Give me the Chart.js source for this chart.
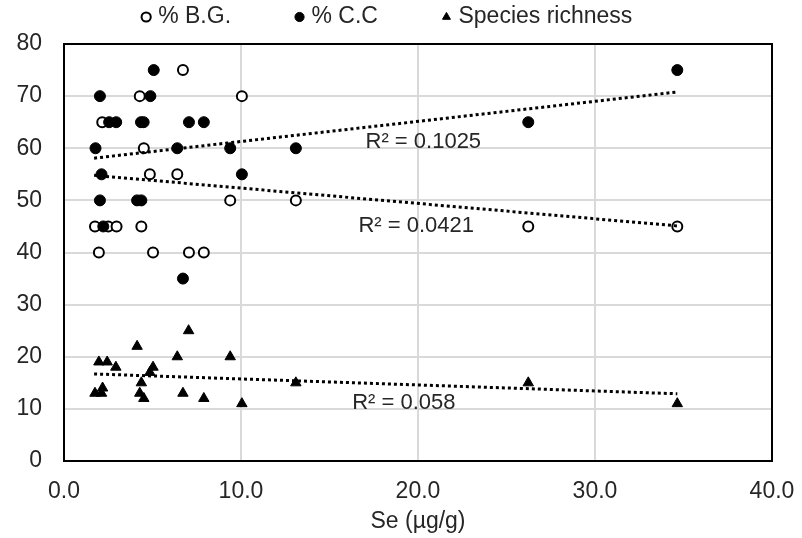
<!DOCTYPE html>
<html>
<head>
<meta charset="utf-8">
<script src="https://cdn.jsdelivr.net/npm/chart.js@4.4.1/dist/chart.umd.min.js"></script>
<style>
  html, body { margin: 0; padding: 0; background: #fff; }
  #wrap { width: 802px; height: 538px; }
</style>
</head>
<body>
<div id="wrap"><canvas id="seChart" width="802" height="538"></canvas></div>
<script>
// Se (µg/g) against % B.G. (open circles)
const bgSe  = [6.72, 4.28, 10.05, 2.16, 4.51, 4.85, 6.4, 9.39, 13.1, 1.75, 2.5, 2.97, 4.37, 26.23, 34.65, 1.97, 5.03, 7.06, 7.9];
const bgPct = [75, 70, 70, 65, 60, 55, 55, 50, 50, 45, 45, 45, 45, 45, 45, 40, 40, 40, 40];

// Se against % C.C (filled circles)
const ccSe  = [5.07, 34.65, 2.03, 4.88, 2.55, 2.95, 4.35, 4.5, 7.06, 7.9, 26.23, 1.78, 6.4, 9.39, 13.1, 2.12, 10.05, 2.03, 4.13, 4.37, 2.22, 6.72];
const ccPct = [75, 75, 70, 70, 65, 65, 65, 65, 65, 65, 65, 60, 60, 60, 60, 55, 55, 50, 50, 50, 45, 35];

// Se against species richness (triangles)
const srSe    = [7.04, 4.13, 6.4, 9.39, 1.97, 2.44, 2.93, 5.03, 4.85, 4.37, 13.1, 26.23, 2.18, 1.75, 2.12, 4.28, 6.72, 4.51, 7.9, 10.05, 34.65];
const srCount = [25, 22, 20, 20, 19, 19, 18, 18, 17, 15, 15, 15, 14, 13, 13, 13, 13, 12, 12, 11, 11];

// linear trendline ends
const trendSe = [1.7, 34.65];
const ccTrend = [58.1, 70.8];
const bgTrend = [54.8, 45.1];
const srTrend = [16.7, 12.9];

const r2Text = ['R\u00b2 = 0.1025', 'R\u00b2 = 0.0421', 'R\u00b2 = 0.058'];
const r2Se   = [20.3, 19.9, 19.2];
const r2Val  = [61.2, 45.1, 11.2];

const xTickLabels = ['0.0', '10.0', '20.0', '30.0', '40.0'];
const yTickLabels = ['0', '10', '20', '30', '40', '50', '60', '70', '80'];

const textColor = '#262626';
const gridColor = '#d9d9d9';

Chart.defaults.font.family = '"Liberation Sans", Arial, sans-serif';
Chart.defaults.color = textColor;

const toPoints = (xs, ys) => xs.map((x, i) => ({ x: x, y: ys[i] }));

const trendSet = (vals) => ({
    data: toPoints(trendSe, vals),
    showLine: true,
    borderColor: '#000',
    borderWidth: 3,
    borderDash: [3, 3],
    pointRadius: 0,
    order: 0
});

const r2Labels = {
    id: 'r2Labels',
    afterDatasetsDraw(chart) {
        const { ctx, scales: { x, y } } = chart;
        ctx.save();
        ctx.font = '22px "Liberation Sans", Arial, sans-serif';
        ctx.fillStyle = textColor;
        ctx.textAlign = 'center';
        ctx.textBaseline = 'middle';
        r2Text.forEach((t, i) => {
            ctx.fillText(t, x.getPixelForValue(r2Se[i]), y.getPixelForValue(r2Val[i]));
        });
        ctx.restore();
    }
};

// bare axes on top and right, used only for the black frame
const frameAxis = (pos, size) => ({
    type: 'linear',
    position: pos,
    grid: { drawOnChartArea: false, drawTicks: false },
    ticks: { display: false },
    border: { color: '#000', width: 2 },
    afterFit: s => {
        if (pos === 'top') s.height = size; else s.width = size;
    }
});

new Chart(document.getElementById('seChart'), {
    type: 'scatter',
    data: {
        datasets: [
            {
                label: '% B.G.',
                data: toPoints(bgSe, bgPct),
                pointStyle: 'circle',
                pointRadius: 5,
                pointHoverRadius: 5,
                backgroundColor: '#fff',
                borderColor: '#000',
                borderWidth: 2,
                pointBorderWidth: 2,
                order: 2
            },
            {
                label: '% C.C',
                data: toPoints(ccSe, ccPct),
                pointStyle: 'circle',
                pointRadius: 5.5,
                pointHoverRadius: 5.5,
                backgroundColor: '#000',
                borderColor: '#000',
                borderWidth: 1,
                order: 1
            },
            {
                label: 'Species richness',
                data: toPoints(srSe, srCount),
                pointStyle: 'triangle',
                pointRadius: 6,
                pointHoverRadius: 6,
                backgroundColor: '#000',
                borderColor: '#000',
                borderWidth: 1,
                order: 3
            },
            trendSet(ccTrend),
            trendSet(bgTrend),
            trendSet(srTrend)
        ]
    },
    options: {
        responsive: false,
        animation: false,
        events: [],
        layout: { padding: { top: -62.5, left: 0, right: 24, bottom: 0 } },
        scales: {
            x: {
                type: 'linear',
                position: 'bottom',
                min: 0,
                max: 40,
                ticks: {
                    stepSize: 10,
                    padding: 17,
                    font: { size: 23 },
                    callback: (value, index) => xTickLabels[index]
                },
                grid: { color: gridColor, lineWidth: 2, drawTicks: false },
                border: { color: '#000', width: 2 },
                title: {
                    display: true,
                    text: 'Se (\u00b5g/g)',
                    font: { size: 23 },
                    padding: { top: 0, bottom: 3 }
                },
                afterFit: s => {
                    s.height = 77;
                    // the end labels may run past the frame, as in the original
                    s.paddingLeft = 0;
                    s.paddingRight = 0;
                }
            },
            y: {
                type: 'linear',
                position: 'left',
                min: 0,
                max: 80,
                ticks: {
                    stepSize: 10,
                    padding: 22,
                    font: { size: 23 },
                    callback: (value, index) => yTickLabels[index]
                },
                grid: { color: gridColor, lineWidth: 2, drawTicks: false },
                border: { color: '#000', width: 2 },
                afterFit: s => {
                    s.width = 64;
                    s.paddingTop = 0;
                    s.paddingBottom = 0;
                }
            },
            x2: frameAxis('top', 5.5),
            y2: frameAxis('right', 6)
        },
        plugins: {
            legend: {
                position: 'top',
                labels: {
                    usePointStyle: true,
                    boxWidth: 1,
                    boxHeight: 6.5,
                    padding: 68,
                    font: { size: 23 },
                    color: textColor,
                    filter: item => item.datasetIndex < 3,
                    sort: (a, b) => a.datasetIndex - b.datasetIndex
                }
            },
            tooltip: { enabled: false }
        }
    },
    plugins: [r2Labels]
});
</script>
</body>
</html>
